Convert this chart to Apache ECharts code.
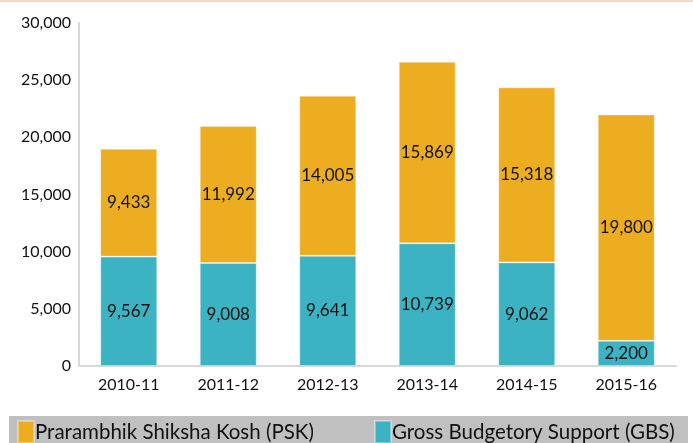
<!DOCTYPE html>
<html>
<head>
<meta charset="utf-8">
<script src="https://cdn.jsdelivr.net/npm/echarts@6/dist/echarts.min.js"></script>
<style>
  html, body { margin: 0; padding: 0; background: #fff; }
  #chart { width: 693px; height: 443px; }
</style>
</head>
<body>
<div id="chart"></div>
<script>
// Data.
const years = ['2010-11', '2011-12', '2012-13', '2013-14', '2014-15', '2015-16'];
const gbsValues = [9567, 9008, 9641, 10739, 9062, 2200];
const pskValues = [9433, 11992, 14005, 15869, 15318, 19800];
const pskName = 'Prarambhik Shiksha Kosh (PSK)';
const gbsName = 'Gross Budgetory Support (GBS)';

const FONT = 'Lato';
const fmt = (v) => v.toLocaleString('en-US');

const chart = echarts.init(document.getElementById('chart'));

const labelStyle = {
  show: true,
  position: 'inside',
  color: '#111',
  fontFamily: FONT,
  fontSize: 17,
  formatter: (p) => fmt(p.value)
};

const legendBase = {
  padding: 0,
  top: 420,
  itemWidth: 16,
  itemHeight: 22,
  icon: 'rect',
  textStyle: { fontFamily: FONT, fontSize: 20.5, color: '#111', padding: [0, 0, 0, -4] }
};

chart.setOption({
  animation: false,
  textStyle: { fontFamily: FONT },
  graphic: [
    // thin salmon line at the very top
    { type: 'rect', left: 0, top: 0, shape: { width: 693, height: 2 }, style: { fill: '#F8D6C9' } },
    // grey legend band
    { type: 'rect', left: 9, top: 416, z: -1, shape: { width: 679, height: 27 }, style: { fill: '#C0C0C0' } }
  ],
  grid: { left: 79, right: 17, top: 23, bottom: 77 },
  legend: [
    Object.assign({ data: [pskName], left: 17 }, legendBase),
    Object.assign({ data: [gbsName], left: 374 }, legendBase)
  ],
  xAxis: {
    type: 'category',
    data: years,
    axisLine: { lineStyle: { color: '#D9D9D9', width: 2 } },
    axisTick: { show: false },
    axisLabel: { color: '#111', fontFamily: FONT, fontSize: 16, margin: 11 }
  },
  yAxis: {
    type: 'value',
    min: 0,
    max: 30000,
    interval: 5000,
    axisLine: { show: true, lineStyle: { color: '#D9D9D9', width: 2 } },
    axisTick: { show: false },
    splitLine: { show: false },
    axisLabel: { color: '#111', fontFamily: FONT, fontSize: 16, margin: 8, formatter: fmt }
  },
  series: [
    {
      name: gbsName,
      type: 'bar',
      stack: 'total',
      barWidth: 57,
      data: gbsValues,
      itemStyle: { color: '#3BB3C3', borderColor: 'rgba(255,255,255,0.35)', borderWidth: 1 },
      label: labelStyle
    },
    {
      name: pskName,
      type: 'bar',
      stack: 'total',
      barWidth: 57,
      data: pskValues,
      itemStyle: { color: '#ECAE20', borderColor: 'rgba(255,255,255,0.35)', borderWidth: 1 },
      label: labelStyle
    }
  ]
});

window.addEventListener('resize', () => chart.resize());
</script>
</body>
</html>
